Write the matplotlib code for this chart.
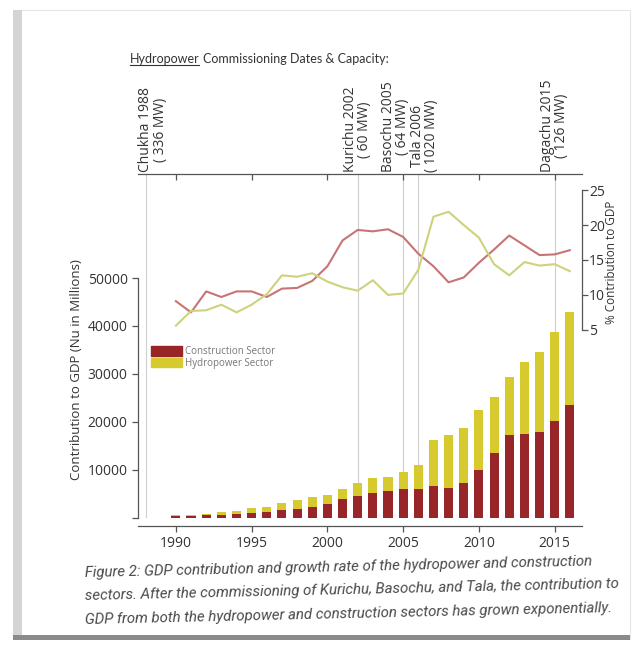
import numpy as np
import matplotlib.pyplot as plt
from matplotlib.patches import Rectangle, Patch
from matplotlib.lines import Line2D

# data
years = np.arange(1990, 2017)
construction = [300, 350, 470, 600, 800, 1000, 1100, 1600, 1800, 2200, 2800, 3800, 4600,
                5200, 5500, 6000, 5900, 6600, 6100, 7200, 10000, 13500, 17200, 17400, 17900,
                20100, 23600]
hydropower = [200, 250, 330, 500, 600, 1000, 1100, 1500, 1900, 2200, 2000, 2200, 2600,
              3100, 3000, 3600, 5000, 9700, 11100, 11500, 12500, 11600, 12100, 15000, 16700,
              18600, 19400]
construction_pct = [9.1, 7.5, 10.5, 9.7, 10.5, 10.5, 9.7, 10.9, 11.0, 12.0, 14.1, 17.8, 19.3,
                    19.1, 19.4, 18.3, 15.9, 14.1, 11.8, 12.5, 14.6, 16.5, 18.5, 17.1, 15.7,
                    15.8, 16.4]
hydro_pct = [5.6, 7.7, 7.8, 8.6, 7.5, 8.6, 10.1, 12.8, 12.6, 13.1, 11.9, 11.1, 10.6, 12.1,
             10.0, 10.2, 13.6, 21.2, 21.9, 20.0, 18.2, 14.4, 12.8, 14.7, 14.2, 14.4, 13.4]

plants = ['Chukha', 'Kurichu', 'Basochu', 'Tala', 'Dagachu']
plant_years = [1988, 2002, 2005, 2006, 2015]
capacity = ['336 MW', '60 MW', '64 MW', '1020 MW', '126 MW']
label_shift = [0.5, 0, -0.5, 0.4, 0]

red_bar = '#982628'
yel_bar = '#d6ca2e'
red_line = '#c87476'
yel_line = '#cfd27c'
ink = '#333333'

plt.rcParams['font.family'] = ['Open Sans', 'DejaVu Sans']

fig = plt.figure(figsize=(6.36, 6.52), dpi=100)

# paper card with shadow edges
fig.patches.append(Rectangle((0.02, 0.02), 0.97, 0.965, transform=fig.transFigure,
                             facecolor='white', edgecolor='#e6e6e6', lw=0.8, zorder=-5))
fig.patches.append(Rectangle((0.02, 0.02), 0.014, 0.965, transform=fig.transFigure,
                             facecolor='#d4d4d4', edgecolor='none', zorder=-4))
fig.patches.append(Rectangle((0.02, 0.018), 0.97, 0.008, transform=fig.transFigure,
                             facecolor='#8a8a8a', edgecolor='none', zorder=-4))

ax = fig.add_axes([0.217, 0.206, 0.698, 0.527])
ax2 = ax.twinx()

ax.bar(years, construction, width=0.6, color=red_bar, zorder=3)
ax.bar(years, hydropower, width=0.6, bottom=construction, color=yel_bar, zorder=3)

ax2.plot(years, construction_pct, color=red_line, lw=1.5)
ax2.plot(years, hydro_pct, color=yel_line, lw=1.5)

for yr in plant_years:
    ax.axvline(yr, color='#cfcfcf', lw=0.8, zorder=0)

ax.set_xlim(1987.5, 2016.8)
ax.set_ylim(0, 71700)
ax2.set_ylim(-21.9, 27.3)

ax.set_xticks(range(1990, 2016, 5))
ax.set_yticks(range(0, 50001, 10000))
ax.set_yticklabels([''] + [str(v) for v in range(10000, 50001, 10000)])
ax2.set_yticks(range(5, 26, 5))

ax.spines['right'].set_visible(False)
ax.spines['top'].set_visible(False)
ax.spines['left'].set_bounds(0, 50000)
ax.spines['bottom'].set_position(('outward', 6))
for s in ['left', 'bottom']:
    ax.spines[s].set_color('#555555')
    ax.spines[s].set_linewidth(0.9)
for s in ['left', 'bottom', 'top']:
    ax2.spines[s].set_visible(False)
ax2.spines['right'].set_bounds(5, 25)
ax2.spines['right'].set_color('#555555')
ax2.spines['right'].set_linewidth(0.9)

ax.tick_params(axis='both', colors='#555555', labelcolor=ink, labelsize=10, length=4, width=0.9)
ax2.tick_params(axis='y', colors='#555555', labelcolor=ink, labelsize=10, length=4, width=0.9, pad=1)

sec = ax.secondary_xaxis('top')
sec.set_xticks(range(1990, 2016, 5))
sec.tick_params(direction='in', labeltop=False, length=4, width=0.9, colors='#555555')
sec.spines['top'].set_color('#555555')
sec.spines['top'].set_linewidth(0.9)

# commissioning labels
for p, yr, cap, dx in zip(plants, plant_years, capacity, label_shift):
    ax.text(yr + dx, 1.006, f'{p} {yr}\n( {cap})', transform=ax.get_xaxis_transform(),
            rotation=90, ha='center', va='bottom', multialignment='center',
            fontsize=10, color=ink, linespacing=0.95)

fig.text(0.121, 0.433, 'Contribution to GDP (Nu in Millions)', rotation=90,
         ha='center', va='center', fontsize=9.5, color=ink)
fig.text(0.962, 0.597, '% Contribution to GDP', rotation=90,
         ha='center', va='center', fontsize=8.5, color=ink)

leg = ax.legend(handles=[Patch(color=red_bar, label='Construction Sector'),
                         Patch(color=yel_bar, label='Hydropower Sector')],
                loc='upper left', bbox_to_anchor=(0.02, 0.51), frameon=False,
                fontsize=7, handlelength=3.2, handleheight=1.1, labelspacing=0.05,
                handletextpad=0.3, borderaxespad=0)
for t in leg.get_texts():
    t.set_color('#777777')

# title with underlined first word
t1 = fig.text(0.204, 0.903, 'Hydropower', fontsize=9, color=ink, family=['Lato', 'DejaVu Sans'])
fig.canvas.draw()
bb = t1.get_window_extent().transformed(fig.transFigure.inverted())
fig.add_artist(Line2D([bb.x0, bb.x1], [bb.y0 + 0.001, bb.y0 + 0.001], color=ink, lw=0.8,
                      transform=fig.transFigure))
fig.text(bb.x1 + 0.006, 0.903, 'Commissioning Dates & Capacity:', fontsize=9, color=ink,
         family=['Lato', 'DejaVu Sans'])

caption = ['Figure 2: GDP contribution and growth rate of the hydropower and construction',
           'sectors. After the commissioning of Kurichu, Basochu, and Tala, the contribution to',
           'GDP from both the hydropower and construction sectors has grown exponentially.']
for i, line in enumerate(caption):
    fig.text(0.134, 0.115 - i * 0.036, line, fontsize=10.8, style='italic', color='#4a4a4a',
             rotation=1.3, rotation_mode='anchor', family=['Roboto', 'DejaVu Sans'])

fig.savefig('out.png', dpi=100)
